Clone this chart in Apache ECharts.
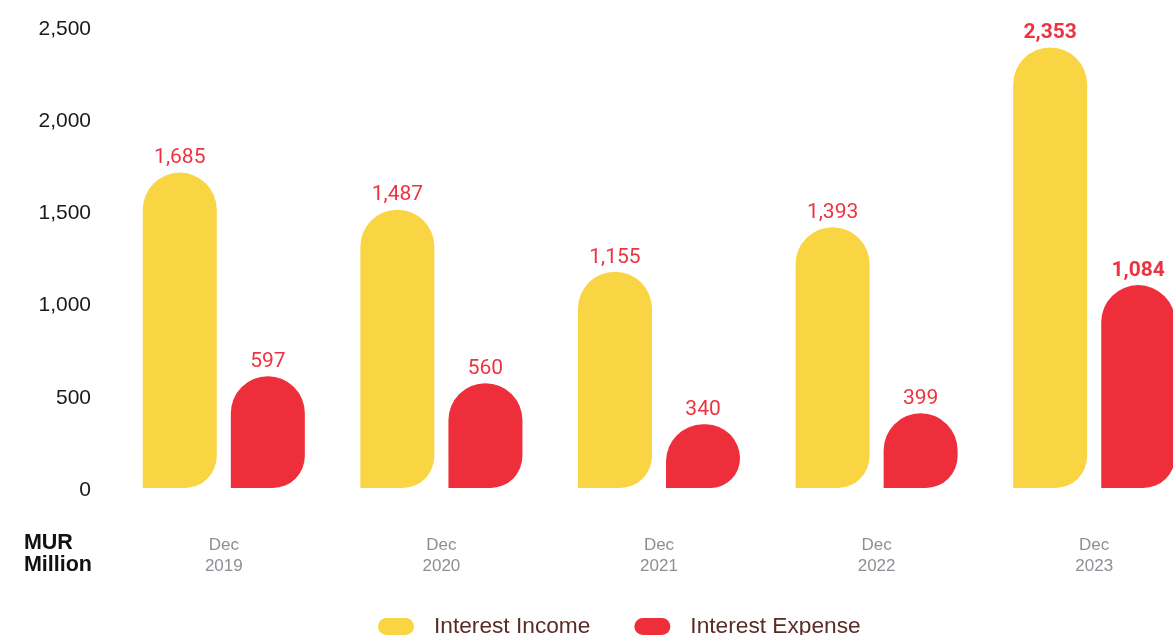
<!DOCTYPE html>
<html><head><meta charset="utf-8">
<script src="https://cdn.jsdelivr.net/npm/echarts@6/dist/echarts.min.js"></script>
<style>html,body{margin:0;padding:0;background:#fff}#c{width:1173px;height:635px}</style>
</head><body><div id="c"></div>
<script>
const categories = ['Dec\n2019', 'Dec\n2020', 'Dec\n2021', 'Dec\n2022', 'Dec\n2023'];
const interestIncome = [1685, 1487, 1155, 1393, 2353];
const interestExpense = [597, 560, 340, 399, 1084];
const seriesNames = ['Interest Income', 'Interest Expense'];
const yTickLabels = [0, 500, 1000, 1500, 2000, 2500];

const YELLOW = '#F9D443';
const RED = '#EE2E3B';
const LABEL_RED = '#EE3340';
const fmt = v => Number(v).toLocaleString('en-US');

function makeData(arr) {
  return arr.map((v, i) => (i === arr.length - 1 ? { value: v, label: { fontWeight: 'bold' } } : v));
}
const pill = 'path://M8.5,0 H27.5 A8.5,8.5 0 0 1 27.5,17 H8.5 A8.5,8.5 0 0 1 8.5,0 Z';

const chart = echarts.init(document.getElementById('c'), null, { renderer: 'canvas' });
chart.setOption({
  animation: false,
  backgroundColor: '#ffffff',
  grid: [
    { left: 115, top: 20, width: 1088, height: 468, containLabel: false, outerBoundsMode: 'none' },
    { left: 115, top: 29, width: 1088, height: 461, containLabel: false, outerBoundsMode: 'none' }
  ],
  xAxis: [
    {
      type: 'category',
      gridIndex: 0,
      data: categories,
      axisLine: { show: false },
      axisTick: { show: false },
      axisLabel: {
        margin: 47,
        color: '#8c8f94',
        fontFamily: 'Liberation Sans, Arial, sans-serif',
        fontSize: 17,
        lineHeight: 21
      }
    },
    { type: 'category', gridIndex: 1, data: categories, show: false }
  ],
  yAxis: [
    { type: 'value', gridIndex: 0, min: 0, max: 2500, show: false },
    {
      type: 'value', gridIndex: 1, position: 'left', min: 0, max: 2500, interval: 500,
      axisLine: { show: false }, axisTick: { show: false }, splitLine: { show: false },
      axisLabel: {
        margin: 24,
        color: '#1a1a1a',
        fontFamily: 'Liberation Sans, Arial, sans-serif',
        fontSize: 21,
        formatter: v => (yTickLabels.indexOf(v) >= 0 ? fmt(v) : '')
      }
    }
  ],
  legend: {
    left: 378,
    top: 615,
    padding: 0,
    itemWidth: 36,
    itemHeight: 17,
    itemGap: 44,
    icon: pill,
    textStyle: {
      color: '#5b2b26',
      fontFamily: 'Liberation Sans, Arial, sans-serif',
      fontSize: 22.7,
      padding: [0, 0, 0, 15]
    },
    data: seriesNames
  },
  graphic: [{
    type: 'text',
    right: 1173 - 92,
    top: 532,
    style: {
      text: 'MUR\nMillion',
      align: 'right',
      fill: '#111111',
      font: 'bold 21.5px "Liberation Sans", Arial, sans-serif',
      lineHeight: 22
    }
  }],
  series: [
    {
      name: seriesNames[0], type: 'bar', xAxisIndex: 0, yAxisIndex: 0,
      barWidth: 74, barGap: '19%',
      itemStyle: { color: YELLOW, borderRadius: [37, 37, 32, 0] },
      label: {
        show: true, position: 'top', distance: 4,
        color: LABEL_RED, fontFamily: 'Roboto, sans-serif', fontSize: 21,
        formatter: p => fmt(p.value)
      },
      data: makeData(interestIncome)
    },
    {
      name: seriesNames[1], type: 'bar', xAxisIndex: 0, yAxisIndex: 0,
      barWidth: 74, barGap: '19%',
      itemStyle: { color: RED, borderRadius: [37, 37, 32, 0] },
      label: {
        show: true, position: 'top', distance: 4,
        color: LABEL_RED, fontFamily: 'Roboto, sans-serif', fontSize: 21,
        formatter: p => fmt(p.value)
      },
      data: makeData(interestExpense)
    }
  ]
});
</script></body></html>
